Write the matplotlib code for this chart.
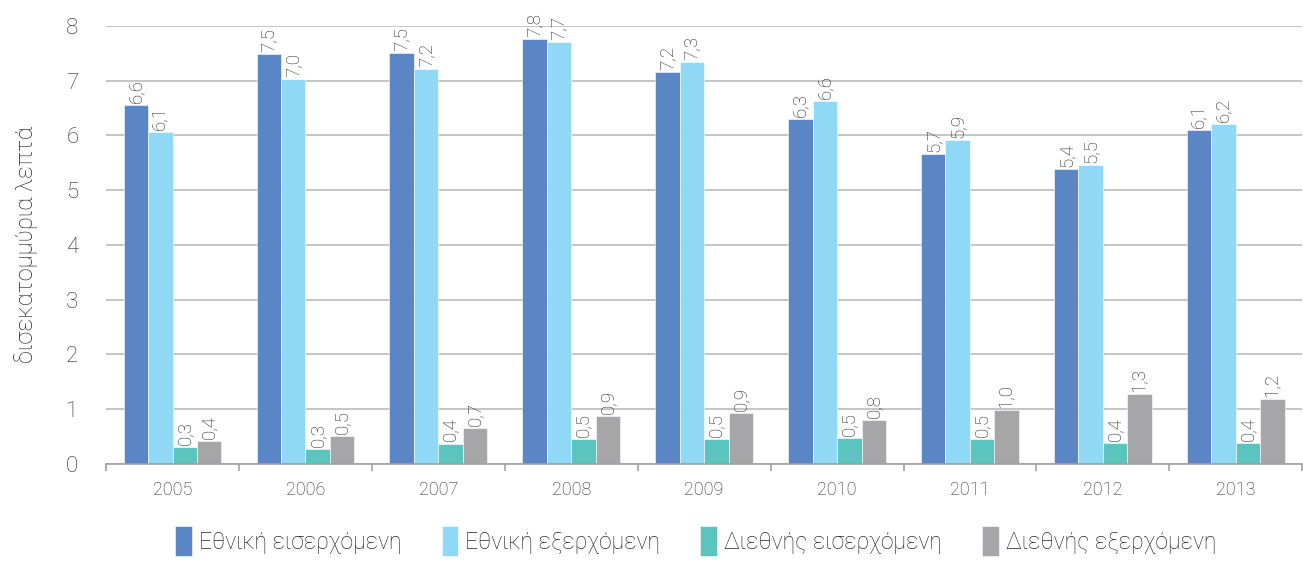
import matplotlib
import matplotlib.pyplot as plt
import numpy as np

matplotlib.use("Agg")

plt.rcParams["font.family"] = ["Roboto", "DejaVu Sans"]
plt.rcParams["font.weight"] = "light"
plt.rcParams["axes.labelweight"] = "light"

years = ["2005", "2006", "2007", "2008", "2009", "2010", "2011", "2012", "2013"]
national_in = [6.56, 7.49, 7.51, 7.76, 7.16, 6.30, 5.66, 5.39, 6.10]
national_out = [6.06, 7.03, 7.21, 7.71, 7.34, 6.63, 5.92, 5.46, 6.21]
intl_in = [0.31, 0.27, 0.37, 0.46, 0.46, 0.47, 0.46, 0.38, 0.38]
intl_out = [0.42, 0.51, 0.66, 0.88, 0.93, 0.80, 0.99, 1.28, 1.19]

series = [
    ("Εθνική εισερχόμενη", national_in, "#5B86C5"),
    ("Εθνική εξερχόμενη", national_out, "#8FD9F6"),
    ("Διεθνής εισερχόμενη", intl_in, "#5BC4BF"),
    ("Διεθνής εξερχόμενη", intl_out, "#A6A6A9"),
]

fig = plt.figure(figsize=(13.03, 5.63), dpi=100)
ax = fig.add_axes([0.0814, 0.176, 0.918, 0.778])

x = np.arange(len(years))
w = 0.184
text_col = "#262626"
for i, (name, vals, col) in enumerate(series):
    pos = x + (i - 1.5) * w
    ax.bar(pos, vals, width=w, color=col, edgecolor="white", linewidth=0.4,
           label=name, zorder=3)
    for px, v in zip(pos, vals):
        ax.text(px, v + 0.04, f"{v:.1f}".replace(".", ","), rotation=90,
                ha="center", va="bottom", fontsize=13.5, color=text_col,
                zorder=4)

ax.set_xlim(-0.5, len(years) - 0.5)
ax.set_ylim(0, 8)
ax.set_yticks(range(0, 9))
ax.tick_params(axis="y", length=0, labelsize=16, colors=text_col, pad=20)
ax.yaxis.grid(True, color="#C0C0C0", linewidth=1.3, zorder=0)

ax.set_xticks(x)
ax.set_xticklabels(years)
ax.tick_params(axis="x", which="major", length=0, labelsize=13,
               colors=text_col, pad=12)
ax.set_xticks(np.arange(-0.5, len(years)), minor=True)
ax.tick_params(axis="x", which="minor", length=5, width=1.2, color="#A0A0A0")

for s in ["top", "right", "left"]:
    ax.spines[s].set_visible(False)
ax.spines["bottom"].set_color("#A0A0A0")
ax.spines["bottom"].set_linewidth(1.2)
ax.spines["bottom"].set_zorder(5)

ax.set_ylabel("δισεκατομμύρια λεπτά", fontsize=17, fontweight="light",
              color=text_col, labelpad=20)

fig.legend(loc="center", bbox_to_anchor=(0.534, 0.039), ncol=4,
           frameon=False, fontsize=16.5, handlelength=0.74, handleheight=1.6,
           columnspacing=1.75, handletextpad=0.3, labelcolor=text_col,
           borderpad=0)

fig.savefig("out.png", dpi=100)
